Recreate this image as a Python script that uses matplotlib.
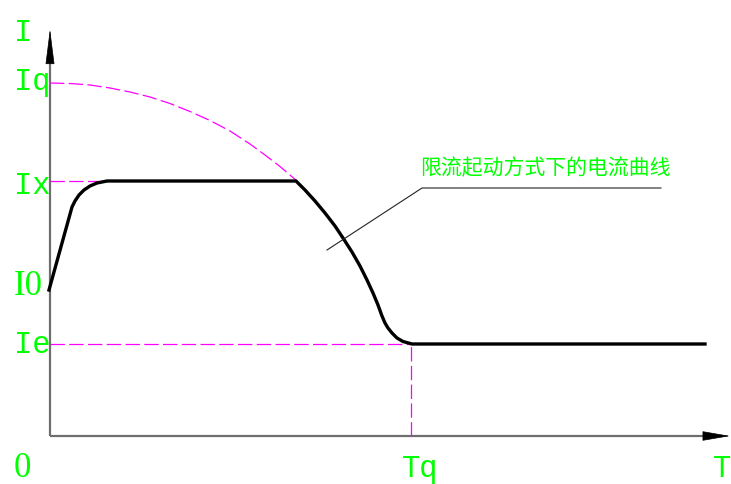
import numpy as np
import matplotlib
matplotlib.use("Agg")
import matplotlib.pyplot as plt

# levels (origin at lower-left corner of the axes)
I_Q = 353
I_X = 255
I_0 = 146
I_E = 92
T_Q = 361

# current under current-limited start
t_curve = [-1, 22, 25, 29, 34, 40, 47, 57,
           246, 255, 265, 275, 285, 293, 302, 310, 317, 323, 328, 332, 335, 338, 342, 347, 353, 362,
           655]
i_curve = [146, 229, 235, 241, 246, 250, 253, 255,
           255, 246, 235, 223, 210, 198, 184, 170, 156, 143, 131, 120, 113, 108, 103, 98, 94.5, 92,
           92]

# direct start current (dashed arc from Iq)
arc_t = [0, 20, 40, 60, 80, 100, 120, 140, 160, 180, 200, 215, 230, 247]
arc_i = [353, 352.5, 351, 348, 344, 339, 332.5, 324.5, 315.5, 305, 292, 281, 269.5, 255]

label_text = "限流起动方式下的电流曲线"
leader_t = [277, 372, 611]
leader_i = [186, 248, 248]

GREEN = "#00ff00"
MAGENTA = "#ff00ff"
AXIS = "#6e6e6e"
dash = (0, (11.5, 3.5))

fig = plt.figure(figsize=(7.31, 4.84), dpi=100)
ax = fig.add_axes([0, 0, 1, 1])
ax.set_xlim(-50, 681)
ax.set_ylim(-48, 436)
ax.axis("off")

# axes with arrow heads
ax.plot([0, 0], [0, 376], color=AXIS, lw=1.6, solid_capstyle="butt")
ax.plot([0, 656], [0, 0], color=AXIS, lw=1.6, solid_capstyle="butt")
ax.annotate("", xy=(0, 407), xytext=(0, 375),
            arrowprops=dict(arrowstyle="-|>,head_length=23,head_width=2.9",
                            mutation_scale=1, color="black", shrinkA=0, shrinkB=0, lw=0.5))
ax.annotate("", xy=(680, 0), xytext=(655, 0),
            arrowprops=dict(arrowstyle="-|>,head_length=18,head_width=3.1",
                            mutation_scale=1, color="black", shrinkA=0, shrinkB=0, lw=0.5))

# magenta guide lines
ax.plot(arc_t, arc_i, color=MAGENTA, lw=0.9, ls=dash)
ax.plot([0, 57], [I_X, I_X], color=MAGENTA, lw=0.9, ls=dash)
ax.plot([0, T_Q], [I_E, I_E], color=MAGENTA, lw=0.9, ls=dash)
ax.plot([T_Q, T_Q], [0, I_E], color=MAGENTA, lw=0.9, ls=dash)

# main curve
ax.plot(t_curve, i_curve, color="black", lw=2.4, solid_joinstyle="round")

# leader + annotation
ax.plot(leader_t, leader_i, color="#222222", lw=0.8)
ax.text(370, 268, label_text, color=GREEN, fontsize=15, va="center", ha="left",
        family=["Noto Sans CJK SC", "DejaVu Sans"])

# axis labels
lab = dict(color=GREEN, fontsize=22, family="Liberation Mono", va="baseline", ha="left")
num = dict(lab, family="Liberation Serif", fontsize=25)
ax.text(-36, 395, "I", **lab)
ax.text(-36, I_Q - 7, "Iq", **lab)
ax.text(-36, I_X - 13, "Ix", **lab)
ax.text(-36, I_0 - 5, "I0", **num)
ax.text(-36, I_E - 9, "Ie", **lab)
ax.text(-36, -41, "0", **num)
ax.text(352, -41, "Tq", **lab)
ax.text(663, -41, "T", **lab)

fig.savefig("out.png", dpi=100)
